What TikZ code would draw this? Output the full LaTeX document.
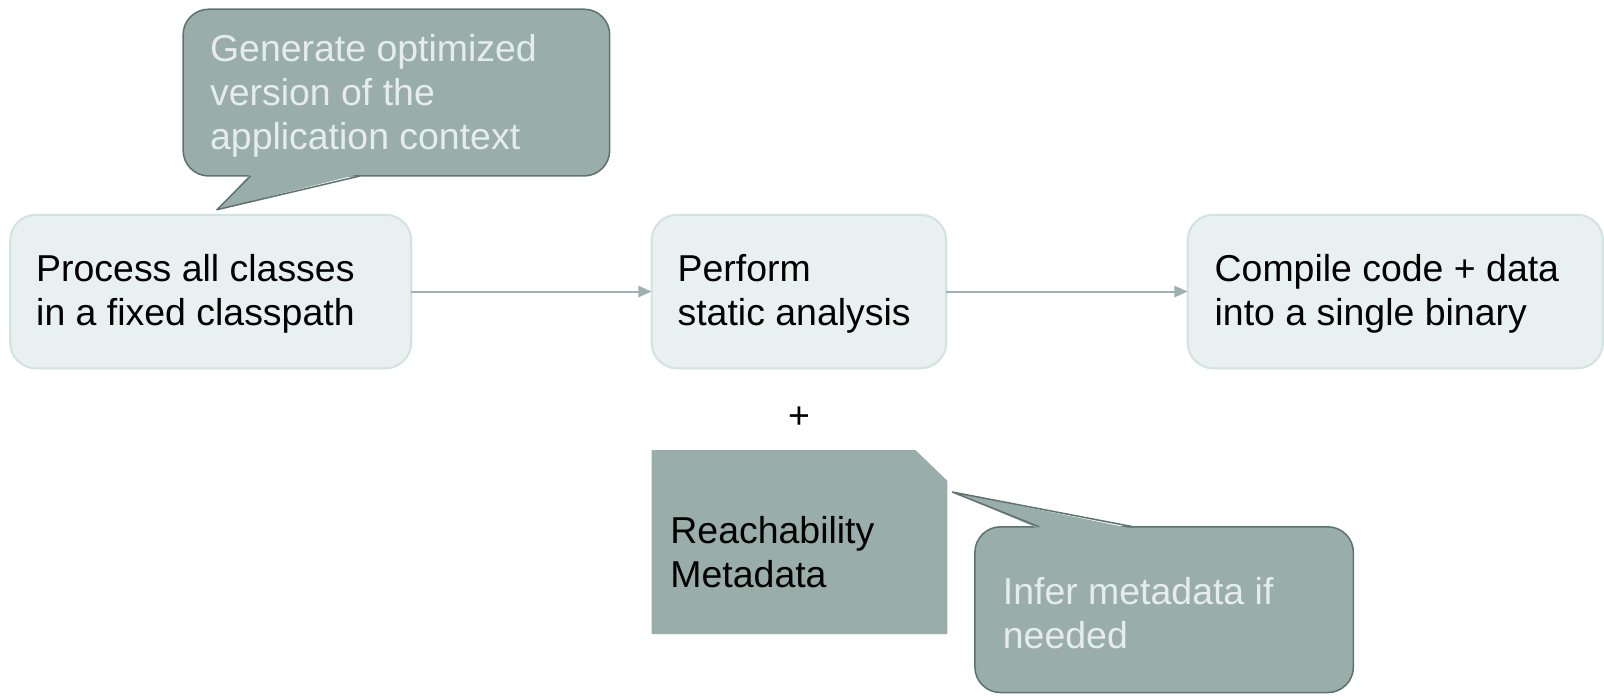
\documentclass[tikz,border=0pt]{standalone}
\usepackage{fontspec}
\setmainfont{Liberation Sans}
\usetikzlibrary{arrows.meta}
\definecolor{boxfill}{HTML}{E8F0F0}
\definecolor{boxline}{HTML}{D3E3E1}
\definecolor{callfill}{HTML}{99AEAB}
\definecolor{callline}{HTML}{5E7370}
\definecolor{calltext}{HTML}{E6ECEB}
\definecolor{arrowcol}{HTML}{9DB1AE}
\tikzset{
  stepbox/.style={draw=boxline, fill=boxfill, line width=1pt, rounded corners=12.5pt},
  calloutbox/.style={draw=callline, fill=callfill, line width=0.75pt, rounded corners=12.5pt},
  txt/.style={font=\fontsize{18.3}{21.5}\selectfont, align=left, inner sep=0pt, anchor=west},
  lighttxt/.style={txt, text=calltext},
  flow/.style={draw=arrowcol, line width=1pt, -{Triangle[length=6.5pt,width=5.5pt]}},
}
\begin{document}
\begin{tikzpicture}[x=0.5pt,y=-0.5pt]
\useasboundingbox (0,0) rectangle (1568,681.4);
% step boxes
\path[stepbox] (10,210) rectangle (402,360);
\node[txt] (ta) at (35,287) {Process all classes\\in a fixed classpath};
\coordinate (aR) at (402,285);
\path[stepbox] (637,210) rectangle (925,360);
\node[txt] (tb) at (662,287) {Perform\\static analysis};
\coordinate (bL) at (637,285);
\coordinate (bR) at (925,285);
\path[stepbox] (1161,210) rectangle (1567,360);
\node[txt] (tc) at (1187,287) {Compile code + data\\into a single binary};
\coordinate (cL) at (1161,285);
\draw[flow] (aR) -- (bL);
\draw[flow] (bR) -- (cL);
% callout 1
\path[calloutbox] (179,9) rectangle (596,172);
\fill[callfill] (245,170) -- (212,205) -- (352,170) -- cycle;
\draw[callline, line width=0.75pt, line join=round] (245,172) -- (212,205) -- (352,172);
\node[lighttxt] (t1) at (205,94) {Generate optimized\\version of the\\application context};
% plus
\node[txt, anchor=center] (plus) at (781,408) {+};
% reachability metadata
\fill[callfill] (637,440) -- (895,440) -- (926,470) -- (926,620) -- (637,620) -- cycle;
\node[txt] (rm) at (655,540) {Reachability\\Metadata};
% callout 2
\path[calloutbox] (953,515) rectangle (1323,677);
\fill[callfill] (1016,517) -- (931,481) -- (1108,517) -- cycle;
\draw[callline, line width=0.75pt, line join=round] (1016,515) -- (931,481) -- (1108,515);
\node[lighttxt] (t2) at (980,599) {Infer metadata if\\needed};
\end{tikzpicture}
\end{document}
